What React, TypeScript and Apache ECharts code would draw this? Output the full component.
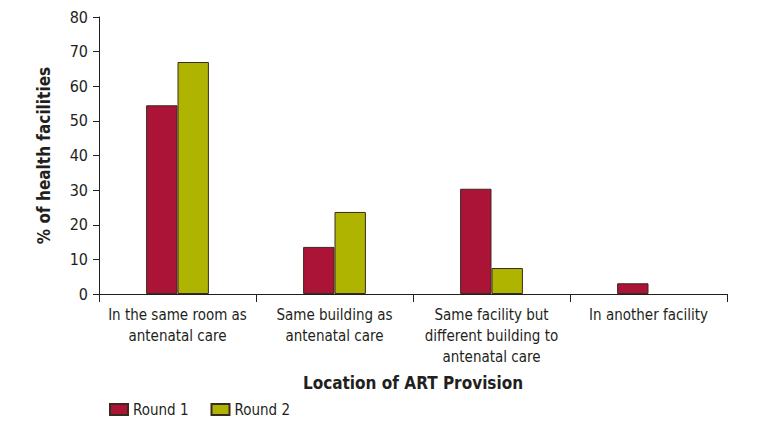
import React, { useEffect, useRef } from "react";
import * as echarts from "echarts";

const categories = [
  "In the same room as\nantenatal care",
  "Same building as\nantenatal care",
  "Same facility but\ndifferent building to\nantenatal care",
  "In another facility",
];
const round1 = [54.5, 13.6, 30.4, 3.1];
const round2 = [67.0, 23.7, 7.5, 0];
const yTicks = [0, 10, 20, 30, 40, 50, 60, 70, 80];

const FONT = "'DejaVu Sans Condensed', 'Liberation Sans Narrow', sans-serif";
const TEXT = "#231f20";
const BORDER = "#3b2a1e";

const toData = (arr: number[]) =>
  arr.map((v) => (v === 0 ? { value: v, itemStyle: { borderWidth: 0 } } : v));

export default function App() {
  const ref = useRef<HTMLDivElement>(null);
  useEffect(() => {
    if (!ref.current) return;
    const chart = echarts.init(ref.current, undefined, { renderer: "svg" });
    chart.setOption({
      animation: false,
      backgroundColor: "#ffffff",
      grid: { left: 99, right: 44, top: 17, bottom: 133, containLabel: false },
      legend: {
        left: 104,
        top: 397,
        itemWidth: 18,
        itemHeight: 11,
        itemGap: 22,
        icon: "rect",
        textStyle: { fontFamily: FONT, fontSize: 15, color: TEXT },
        data: ["Round 1", "Round 2"],
      },
      xAxis: {
        type: "category",
        data: categories,
        name: "Location of ART Provision",
        nameLocation: "middle",
        nameGap: 80,
        nameTextStyle: { fontFamily: FONT, fontSize: 17, fontWeight: "bold", color: TEXT },
        axisLine: { lineStyle: { color: TEXT, width: 1 } },
        axisTick: { show: true, length: 8, lineStyle: { color: TEXT } },
        axisLabel: {
          interval: 0,
          fontFamily: FONT,
          fontSize: 15,
          color: TEXT,
          lineHeight: 21,
          margin: 10,
        },
      },
      yAxis: {
        type: "value",
        min: yTicks[0],
        max: yTicks[yTicks.length - 1],
        interval: 10,
        name: "% of health facilities",
        nameLocation: "middle",
        nameGap: 47,
        nameTextStyle: { fontFamily: FONT, fontSize: 17, fontWeight: "bold", color: TEXT },
        axisLine: { show: true, lineStyle: { color: TEXT, width: 1 } },
        axisTick: { show: true, length: 6, lineStyle: { color: TEXT } },
        splitLine: { show: false },
        axisLabel: { fontFamily: FONT, fontSize: 16, color: TEXT, margin: 11 },
      },
      series: [
        {
          name: "Round 1",
          type: "bar",
          data: toData(round1),
          barGap: "0%",
          barCategoryGap: "60%",
          itemStyle: { color: "#ab1337", borderColor: BORDER, borderWidth: 1 },
        },
        {
          name: "Round 2",
          type: "bar",
          data: toData(round2),
          itemStyle: { color: "#afb400", borderColor: BORDER, borderWidth: 1 },
        },
      ],
    });
    return () => chart.dispose();
  }, []);
  return (
    <div
      ref={ref}
      style={{ position: "fixed", left: 0, top: 0, width: 771, height: 427 }}
    />
  );
}
